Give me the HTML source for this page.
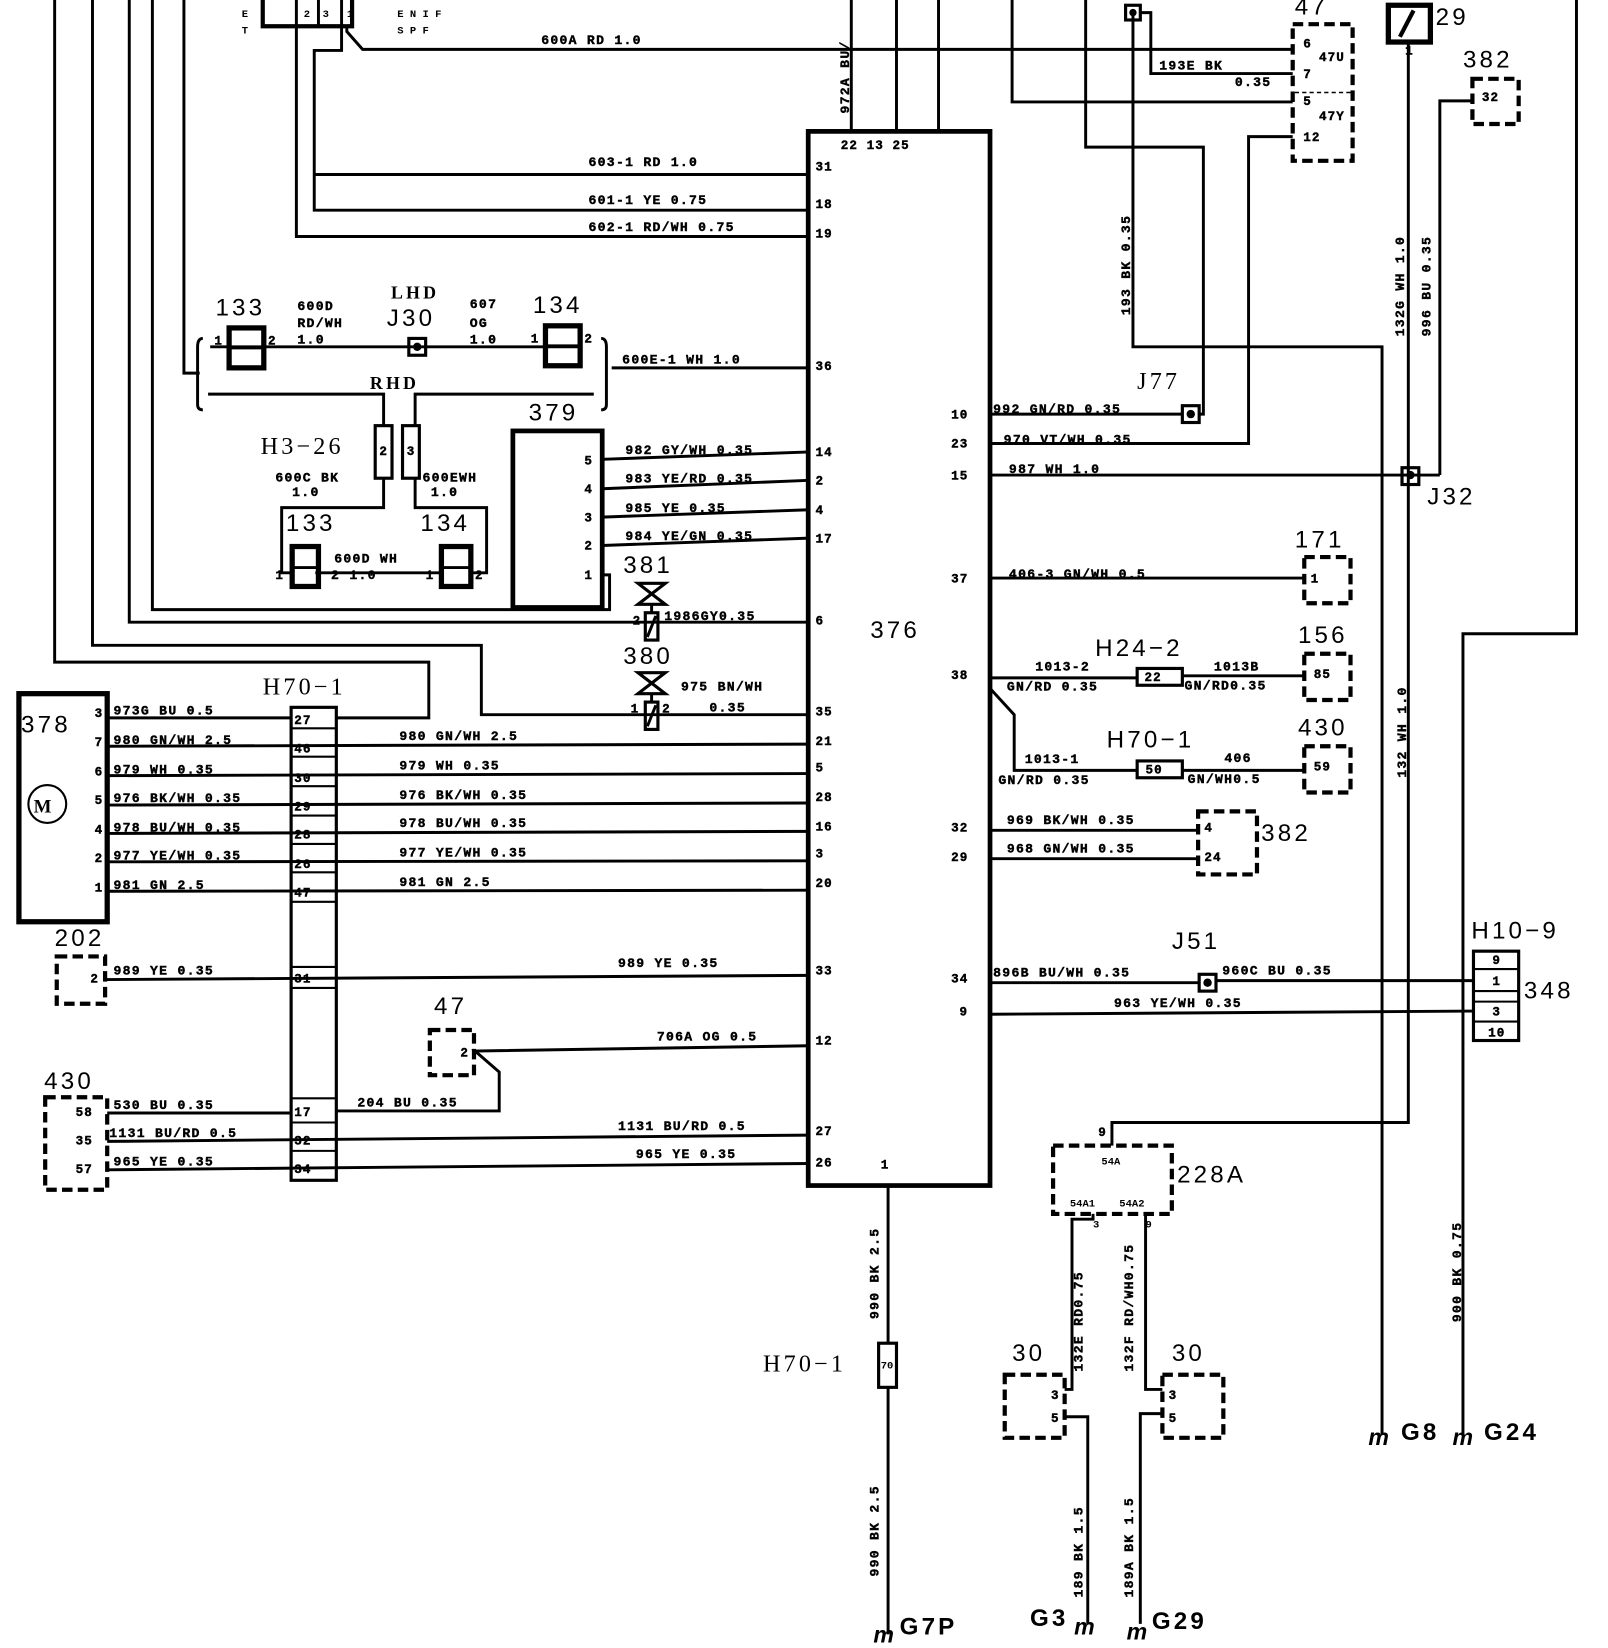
<!DOCTYPE html>
<html><head><meta charset="utf-8"><style>
html,body{margin:0;padding:0;background:#fff;}
svg{display:block}
.w{font-family:"Liberation Mono",monospace;font-weight:bold;font-size:12.5px;fill:#000;letter-spacing:1.2px;stroke:#000;stroke-width:0.4}
.p{font-family:"Liberation Mono",monospace;font-weight:bold;font-size:12px;fill:#000;letter-spacing:1px;stroke:#000;stroke-width:0.4}
.b{font-family:"Liberation Sans",sans-serif;font-size:23px;fill:#000;letter-spacing:3px}
.s{font-family:"Liberation Mono",monospace;font-weight:bold;font-size:10px;fill:#000}
</style></head><body>
<svg width="1608" height="1648" viewBox="0 0 1530 1568" preserveAspectRatio="none" xmlns="http://www.w3.org/2000/svg">
<g fill="none" stroke="#000" stroke-width="2.8">
<polyline points="52,0 52,630 408,630 408,683 320,683"/>
<polyline points="88,0 88,614 458,614 458,680 770,680"/>
<polyline points="123,0 123,592 770,592"/>
<polyline points="145,0 145,580 580,580 580,547 573,547"/>
<polyline points="175,0 175,355 190,355"/>
<polyline points="250,0 250,25 335,25 335,0" stroke-width="4"/>
<line x1="282" y1="0" x2="282" y2="25"/><line x1="303" y1="0" x2="303" y2="25"/><line x1="325" y1="0" x2="325" y2="25"/>
<polyline points="330,25 330,30 345,47 1230,47"/>
<polyline points="325,25 325,48 299,48 299,200 770,200"/>
<line x1="299" y1="166" x2="770" y2="166"/>
<polyline points="282,25 282,225 770,225"/>
<line x1="810" y1="0" x2="810" y2="124"/><line x1="853" y1="0" x2="853" y2="124"/><line x1="893" y1="0" x2="893" y2="124"/>
<rect x="769" y="125" width="173" height="1003" stroke-width="4.5"/>
<path d="M193,322 Q188,322 188,330 L188,385 Q188,390 193,390"/>
<path d="M572,322 Q577,322 577,330 L577,385 Q577,390 572,390"/>
<line x1="200" y1="330" x2="553" y2="330"/>
<line x1="582" y1="350" x2="770" y2="350"/>
<rect x="218" y="312" width="33" height="38" stroke-width="5"/><line x1="218" y1="331" x2="251" y2="331"/>
<rect x="519" y="310" width="33" height="38" stroke-width="5"/><line x1="519" y1="329" x2="552" y2="329"/>
<rect x="389" y="322" width="16" height="16" stroke-width="3"/>
<polyline points="198,375 365,375 365,405"/><polyline points="395,405 395,375 565,375"/>
<rect x="357" y="405" width="16" height="50" stroke-width="3"/><rect x="383" y="405" width="16" height="50" stroke-width="3"/>
<polyline points="365,455 365,483 268,483 268,545 278,545"/>
<polyline points="395,455 395,483 463,483 463,545 450,545"/>
<line x1="300" y1="545" x2="420" y2="545"/>
<rect x="278" y="520" width="25" height="38" stroke-width="5"/><line x1="278" y1="540" x2="303" y2="540"/>
<rect x="420" y="520" width="28" height="38" stroke-width="5"/><line x1="420" y1="540" x2="448" y2="540"/>
<rect x="488" y="410" width="85" height="168" stroke-width="4.5"/>
<line x1="573" y1="437" x2="770" y2="430"/><line x1="573" y1="465" x2="770" y2="457"/>
<line x1="573" y1="492" x2="770" y2="485"/><line x1="573" y1="519" x2="770" y2="512"/>
<path d="M607,555 L633,555 L607,575 L633,575 Z" stroke-width="3"/>
<line x1="620" y1="575" x2="620" y2="583"/>
<rect x="614" y="583" width="12" height="26" stroke-width="3"/><line x1="616" y1="606" x2="624" y2="586"/>
<path d="M607,640 L633,640 L607,660 L633,660 Z" stroke-width="3"/>
<line x1="620" y1="660" x2="620" y2="668"/>
<rect x="614" y="668" width="12" height="26" stroke-width="3"/><line x1="616" y1="691" x2="624" y2="671"/>
<rect x="18" y="660" width="84" height="217" stroke-width="5"/>
<circle cx="45" cy="765" r="18" stroke-width="2"/>
<rect x="277" y="673" width="43" height="450" stroke-width="3"/>
<g stroke-width="2">
<line x1="277" y1="693" x2="320" y2="693"/><line x1="277" y1="720" x2="320" y2="720"/><line x1="277" y1="748" x2="320" y2="748"/>
<line x1="277" y1="776" x2="320" y2="776"/><line x1="277" y1="803" x2="320" y2="803"/><line x1="277" y1="830" x2="320" y2="830"/>
<line x1="277" y1="858" x2="320" y2="858"/><line x1="277" y1="920" x2="320" y2="920"/><line x1="277" y1="940" x2="320" y2="940"/>
<line x1="277" y1="1045" x2="320" y2="1045"/><line x1="277" y1="1068" x2="320" y2="1068"/><line x1="277" y1="1095" x2="320" y2="1095"/>
</g>
<line x1="102" y1="683" x2="277" y2="683"/>
<line x1="102" y1="710" x2="770" y2="708"/><line x1="102" y1="738" x2="770" y2="736"/>
<line x1="102" y1="766" x2="770" y2="764"/><line x1="102" y1="793" x2="770" y2="791"/>
<line x1="102" y1="820" x2="770" y2="819"/><line x1="102" y1="848" x2="770" y2="847"/>
<line x1="100" y1="932" x2="770" y2="928"/>
<line x1="102" y1="1059" x2="277" y2="1059"/><polyline points="320,1057 475,1057 475,1020 452,1000 770,995"/>
<line x1="102" y1="1086" x2="770" y2="1080"/><line x1="102" y1="1113" x2="770" y2="1107"/>
<g stroke-width="4" stroke-dasharray="10,5">
<rect x="54" y="910" width="46" height="45"/>
<rect x="43" y="1044" width="59" height="88"/>
<rect x="409" y="980" width="42" height="43"/>
<rect x="1230" y="23" width="57" height="130"/>
<rect x="1401" y="75" width="44" height="43"/>
<rect x="1241" y="530" width="44" height="44"/>
<rect x="1241" y="622" width="44" height="44"/>
<rect x="1241" y="710" width="44" height="44"/>
<rect x="1140" y="772" width="56" height="60"/>
<rect x="1002" y="1090" width="113" height="65"/>
<rect x="956" y="1308" width="57" height="60"/>
<rect x="1106" y="1308" width="58" height="60"/>
</g>
<line x1="1232" y1="88" x2="1285" y2="88" stroke-width="1.5" stroke-dasharray="4,3"/>
<polyline points="963,0 963,97 1230,97"/>
<polyline points="1033,0 1033,140 1145,140 1145,394 1141,394"/>
<polyline points="1078,12 1078,330 1315,330 1315,1365"/>
<polyline points="1085,12 1095,12 1095,70 1230,70"/>
<rect x="1071" y="5" width="14" height="14" stroke-width="3"/>
<polyline points="942,422 1188,422 1188,130 1230,130"/>
<line x1="942" y1="394" x2="1125" y2="394"/>
<rect x="1125" y="386" width="16" height="16" stroke-width="3"/>
<line x1="942" y1="452" x2="1370" y2="452"/>
<polyline points="1370,452 1370,96 1401,96"/>
<polyline points="1340,40 1340,1068 1058,1068 1058,1090"/>
<rect x="1321" y="5" width="40" height="35" stroke-width="5"/><line x1="1332" y1="35" x2="1345" y2="10" stroke-width="4"/>
<rect x="1334" y="445" width="16" height="16" stroke-width="3"/>
<polyline points="1500,0 1500,603 1392,603 1392,1365"/>
<line x1="942" y1="550" x2="1241" y2="550"/>
<line x1="942" y1="645" x2="1082" y2="645"/><line x1="1125" y1="643" x2="1241" y2="643"/>
<rect x="1082" y="636" width="43" height="16" stroke-width="3"/>
<polyline points="942,655 965,680 965,733 1082,733"/><line x1="1125" y1="733" x2="1241" y2="733"/>
<rect x="1082" y="724" width="43" height="16" stroke-width="3"/>
<line x1="942" y1="790" x2="1140" y2="790"/><line x1="942" y1="817" x2="1140" y2="817"/>
<line x1="942" y1="935" x2="1141" y2="935"/><line x1="1157" y1="933" x2="1402" y2="933"/>
<rect x="1141" y="927" width="16" height="16" stroke-width="3"/>
<line x1="942" y1="965" x2="1402" y2="962"/>
<rect x="1402" y="905" width="43" height="85" stroke-width="3"/>
<g stroke-width="2"><line x1="1402" y1="922" x2="1445" y2="922"/><line x1="1402" y1="943" x2="1445" y2="943"/><line x1="1402" y1="953" x2="1445" y2="953"/><line x1="1402" y1="972" x2="1445" y2="972"/></g>
<line x1="845" y1="1128" x2="845" y2="1278"/><rect x="836" y="1278" width="17" height="42" stroke-width="3"/><line x1="845" y1="1320" x2="845" y2="1555"/>
<polyline points="1040,1155 1040,1160 1020,1160 1020,1322 1013,1322"/>
<polyline points="1013,1348 1035,1348 1035,1545"/>
<polyline points="1090,1155 1090,1322 1106,1322"/>
<polyline points="1106,1345 1085,1345 1085,1545"/>
</g>
<g class="b" style="font-weight:bold;font-style:italic;font-size:22px;letter-spacing:-2px">
<text x="831" y="1563">m</text><text x="1022" y="1555">m</text><text x="1072" y="1560">m</text><text x="1302" y="1375">m</text><text x="1382" y="1375">m</text>
</g>
<g class="b" style="font-weight:bold">
<text x="856" y="1555">G7P</text><text x="980" y="1547">G3</text><text x="1096" y="1550">G29</text>
<text x="1333" y="1370">G8</text><text x="1412" y="1370">G24</text>
</g>
<g class="b">
<text x="205" y="300">133</text><text x="368" y="310">J30</text><text x="507" y="298">134</text>
<text x="372" y="284" style="font-size:17px;font-family:'Liberation Serif',serif;font-weight:bold">LHD</text>
<text x="352" y="370" style="font-size:17px;font-family:'Liberation Serif',serif;font-weight:bold">RHD</text>
<text x="248" y="432" style="font-family:'Liberation Serif',serif">H3−26</text>
<text x="272" y="505">133</text><text x="400" y="505">134</text>
<text x="503" y="400">379</text><text x="593" y="545">381</text><text x="593" y="632">380</text>
<text x="250" y="661" style="font-family:'Liberation Serif',serif">H70−1</text>
<text x="20" y="697">378</text><text x="52" y="900">202</text><text x="42" y="1036">430</text><text x="413" y="965">47</text>
<text x="828" y="607">376</text>
<text x="1232" y="14">47</text><text x="1366" y="24">29</text><text x="1392" y="64">382</text>
<text x="1082" y="370" style="font-family:'Liberation Serif',serif">J77</text><text x="1358" y="480">J32</text>
<text x="1232" y="521">171</text><text x="1042" y="624">H24−2</text><text x="1235" y="612">156</text>
<text x="1053" y="711">H70−1</text><text x="1235" y="700">430</text><text x="1200" y="800">382</text>
<text x="1115" y="903">J51</text><text x="1400" y="893">H10−9</text><text x="1450" y="950">348</text>
<text x="1120" y="1125">228A</text><text x="726" y="1305" style="font-family:'Liberation Serif',serif">H70−1</text>
<text x="963" y="1295">30</text><text x="1115" y="1295">30</text>
<text x="32" y="773" style="font-size:18px;font-family:'Liberation Serif',serif;font-weight:bold">M</text>
</g>
<g class="w">
<text x="515" y="42">600A  RD  1.0</text>
<text x="560" y="158">603-1  RD  1.0</text>
<text x="560" y="194">601-1  YE  0.75</text>
<text x="560" y="220">602-1 RD/WH 0.75</text>
<text x="592" y="346">600E-1 WH 1.0</text>
<text x="595" y="432">982 GY/WH 0.35</text><text x="595" y="459">983 YE/RD 0.35</text>
<text x="595" y="487">985  YE  0.35</text><text x="595" y="514">984 YE/GN 0.35</text>
<text x="632" y="590">1986GY0.35</text>
<text x="648" y="657">975 BN/WH</text><text x="675" y="677">0.35</text>
<text x="380" y="704">980  GN/WH   2.5</text><text x="380" y="732">979    WH    0.35</text>
<text x="380" y="760">976  BK/WH   0.35</text><text x="380" y="787">978  BU/WH   0.35</text>
<text x="380" y="815">977  YE/WH   0.35</text><text x="380" y="843">981    GN    2.5</text>
<text x="588" y="920">989 YE  0.35</text><text x="625" y="990">706A OG 0.5</text>
<text x="340" y="1053">204 BU 0.35</text>
<text x="588" y="1075">1131 BU/RD 0.5</text><text x="605" y="1102">965  YE  0.35</text>
<text x="108" y="680">973G BU 0.5</text><text x="108" y="708">980 GN/WH 2.5</text>
<text x="108" y="736">979  WH  0.35</text><text x="108" y="763">976 BK/WH 0.35</text>
<text x="108" y="791">978 BU/WH 0.35</text><text x="108" y="818">977 YE/WH 0.35</text>
<text x="108" y="846">981 GN 2.5</text><text x="108" y="927">989 YE 0.35</text>
<text x="108" y="1055">530 BU 0.35</text><text x="104" y="1082">1131 BU/RD 0.5</text><text x="108" y="1109">965 YE  0.35</text>
<text x="283" y="295">600D</text><text x="283" y="311">RD/WH</text><text x="283" y="327">1.0</text>
<text x="447" y="293">607</text><text x="447" y="311">OG</text><text x="447" y="327">1.0</text>
<text x="262" y="458">600C BK</text><text x="278" y="472">1.0</text><text x="402" y="458">600EWH</text><text x="410" y="472">1.0</text>
<text x="318" y="535">600D WH</text><text x="315" y="551">2 1.0</text>
<text x="945" y="393">992 GN/RD 0.35</text><text x="955" y="422">970 VT/WH 0.35</text><text x="960" y="450">987  WH   1.0</text>
<text x="960" y="550">406-3 GN/WH 0.5</text>
<text x="985" y="638">1013-2</text><text x="958" y="657">GN/RD 0.35</text>
<text x="1155" y="638">1013B</text><text x="1127" y="656">GN/RD0.35</text>
<text x="975" y="726">1013-1</text><text x="950" y="746">GN/RD 0.35</text>
<text x="1165" y="725">406</text><text x="1130" y="745">GN/WH0.5</text>
<text x="958" y="784">969 BK/WH 0.35</text><text x="958" y="811">968 GN/WH 0.35</text>
<text x="945" y="929">896B BU/WH 0.35</text><text x="1163" y="927">960C BU 0.35</text>
<text x="1060" y="958">963  YE/WH 0.35</text>
<text x="1103" y="66">193E  BK</text><text x="1175" y="82">0.35</text>
</g>
<g class="p">
<text x="776" y="162">31</text><text x="776" y="198">18</text><text x="776" y="226">19</text><text x="776" y="352">36</text>
<text x="776" y="434">14</text><text x="776" y="461">2</text><text x="776" y="489">4</text><text x="776" y="516">17</text>
<text x="776" y="594">6</text><text x="776" y="681">35</text><text x="776" y="709">21</text><text x="776" y="734">5</text>
<text x="776" y="762">28</text><text x="776" y="790">16</text><text x="776" y="816">3</text><text x="776" y="844">20</text>
<text x="776" y="927">33</text><text x="776" y="994">12</text><text x="776" y="1080">27</text><text x="776" y="1110">26</text>
<text x="838" y="1112">1</text><text x="800" y="142">22 13 25</text>
<text x="905" y="398">10</text><text x="905" y="426">23</text><text x="905" y="456">15</text><text x="905" y="554">37</text>
<text x="905" y="646">38</text><text x="905" y="791">32</text><text x="905" y="819">29</text><text x="905" y="935">34</text><text x="913" y="966">9</text>
<text x="90" y="682">3</text><text x="90" y="710">7</text><text x="90" y="738">6</text><text x="90" y="765">5</text>
<text x="90" y="793">4</text><text x="90" y="820">2</text><text x="90" y="848">1</text>
<text x="280" y="689">27</text><text x="280" y="716">46</text><text x="280" y="744">30</text><text x="280" y="771">29</text>
<text x="280" y="798">28</text><text x="280" y="826">26</text><text x="280" y="853">47</text><text x="280" y="935">31</text>
<text x="280" y="1062">17</text><text x="280" y="1089">32</text><text x="280" y="1116">34</text>
<text x="86" y="935">2</text><text x="438" y="1005">2</text>
<text x="72" y="1062">58</text><text x="72" y="1089">35</text><text x="72" y="1116">57</text>
<text x="204" y="328">1</text><text x="255" y="328">2</text><text x="505" y="326">1</text><text x="556" y="326">2</text>
<text x="361" y="433">2</text><text x="387" y="433">3</text>
<text x="556" y="442">5</text><text x="556" y="469">4</text><text x="556" y="496">3</text><text x="556" y="523">2</text><text x="556" y="551">1</text>
<text x="262" y="551">1</text><text x="405" y="551">1</text><text x="452" y="551">2</text>
<text x="602" y="594">2</text><text x="600" y="678">1</text><text x="630" y="678">2</text>
<text x="1240" y="45">6</text><text x="1255" y="58">47U</text><text x="1240" y="74">7</text>
<text x="1240" y="100">5</text><text x="1255" y="114">47Y</text><text x="1240" y="134">12</text>
<text x="1410" y="96">32</text><text x="1247" y="554">1</text><text x="1250" y="645">85</text><text x="1250" y="733">59</text>
<text x="1089" y="648">22</text><text x="1090" y="736">50</text>
<text x="1146" y="791">4</text><text x="1146" y="819">24</text>
<text x="1420" y="917">9</text><text x="1420" y="937">1</text><text x="1420" y="966">3</text><text x="1416" y="986">10</text>
<text x="1045" y="1081">9</text><text x="1337" y="52">1</text>
<text x="1000" y="1331">3</text><text x="1000" y="1353">5</text><text x="1112" y="1331">3</text><text x="1112" y="1353">5</text>
</g>
<g class="s">
<text x="1048" y="1108">54A</text><text x="1018" y="1148">54A1</text><text x="1065" y="1148">54A2</text>
<text x="1040" y="1168">3</text><text x="1090" y="1168">9</text>
<text x="838" y="1302">70</text>
<text x="230" y="16">E</text><text x="230" y="32">T</text>
<text x="378" y="16">E  N  I  F</text><text x="378" y="32">S     P  F</text>
<text x="289" y="16">2</text><text x="307" y="16">3</text><text x="330" y="16">1</text>
</g>
<g class="w">
<text transform="translate(808,108) rotate(-90)">972A BU/</text>
<text transform="translate(1075,300) rotate(-90)">193 BK 0.35</text>
<text transform="translate(1336,320) rotate(-90)">132G WH 1.0</text>
<text transform="translate(1361,320) rotate(-90)">996 BU 0.35</text>
<text transform="translate(1338,740) rotate(-90)">132 WH 1.0</text>
<text transform="translate(1390,1258) rotate(-90)">900 BK 0.75</text>
<text transform="translate(836,1255) rotate(-90)">990 BK 2.5</text>
<text transform="translate(836,1500) rotate(-90)">990 BK 2.5</text>
<text transform="translate(1030,1305) rotate(-90)">132E RD0.75</text>
<text transform="translate(1078,1305) rotate(-90)">132F RD/WH0.75</text>
<text transform="translate(1030,1520) rotate(-90)">189 BK 1.5</text>
<text transform="translate(1078,1520) rotate(-90)">189A BK 1.5</text>
</g>
<g fill="#000">
<circle cx="397" cy="330" r="4"/><circle cx="1133" cy="394" r="4"/><circle cx="1149" cy="935" r="4"/><circle cx="1342" cy="452" r="4"/><circle cx="1078" cy="12" r="3.5"/>
</g>
</svg>
</body></html>
